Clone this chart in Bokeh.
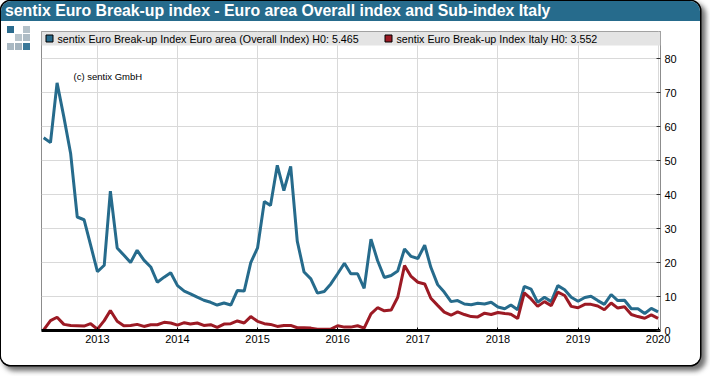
import pandas as pd
from bokeh.embed import file_html
from bokeh.layouts import column
from bokeh.resources import INLINE
from bokeh.plotting import figure
from bokeh.models import (BoxAnnotation, ColumnDataSource, Div, FixedTicker, Grid, Label,
                          LinearAxis, Range1d)

title_text = "sentix Euro Break-up index - Euro area Overall index and Sub-index Italy"
series_names = ["sentix Euro Break-up Index Euro area (Overall Index) H0: 5.465",
                "sentix Euro Break-up Index Italy H0: 3.552"]
credit = "(c) sentix GmbH"

euro_area = [56.7, 55.3, 72.9, 62.8, 52.0, 33.4, 32.6, 25.1,
             17.3, 19.2, 41.0, 24.3, 22.2, 20.0, 23.6, 20.7, 18.7, 14.2, 15.7, 17.0,
             13.2, 11.6, 10.8, 9.8, 8.9, 8.3, 7.5, 8.1, 7.5, 11.8, 11.6, 20.0,
             24.3, 38.0, 36.8, 48.6, 41.2, 48.3, 26.3, 17.2, 15.2, 11.0, 11.5, 13.7,
             16.7, 19.8, 16.7, 16.7, 12.4, 26.9, 20.6, 15.6, 16.2, 17.5, 24.0, 21.8,
             21.2, 25.1, 18.6, 13.5, 11.3, 8.5, 8.8, 7.8, 7.6, 8.0, 7.8, 8.3,
             6.9, 6.4, 7.5, 6.1, 13.0, 12.2, 8.3, 9.8, 8.5, 13.2, 12.0, 9.8,
             8.6, 9.7, 10.1, 8.8, 7.7, 10.6, 8.8, 8.9, 6.4, 6.4, 5.0, 6.5,
             5.465]
italy = [0.2, 2.9, 3.9, 1.8, 1.5, 1.4, 1.3, 2.0,
         0.4, 2.9, 5.9, 2.7, 1.4, 1.5, 1.8, 1.2, 1.7, 1.7, 2.4, 2.2,
         1.6, 2.3, 1.9, 2.2, 1.5, 1.7, 0.9, 1.9, 2.0, 2.8, 2.2, 4.1,
         2.7, 2.0, 1.8, 1.2, 1.5, 1.5, 0.8, 0.8, 0.7, 0.4, 0.4, 0.4,
         1.4, 1.0, 1.0, 1.4, 0.7, 4.9, 6.7, 5.8, 6.0, 9.8, 19.1, 15.9,
         14.2, 13.7, 9.5, 7.4, 5.4, 4.5, 5.5, 4.7, 4.1, 4.0, 5.1, 4.7,
         5.3, 5.0, 4.8, 3.5, 11.1, 9.3, 7.1, 8.5, 7.3, 11.3, 10.3, 7.1,
         6.7, 7.7, 7.7, 7.2, 6.1, 8.1, 6.6, 7.0, 4.7, 4.1, 3.6, 4.6,
         3.552]
first_month = "2012-05-01"
year_labels = [2013, 2014, 2015, 2016, 2017, 2018, 2019, 2020]
value_ticks = [0, 10, 20, 30, 40, 50, 60, 70, 80]

BLUE = "#266b8c"
RED = "#9c1a24"
OX = 1    # the card starts one pixel in, so that its black ring fits the page
OY = 21   # page y of the figure's top, under the title band


def ms(t):
    return pd.Timestamp(t).value / 1e6


months = pd.date_range(first_month, periods=len(euro_area), freq="MS")
src = ColumnDataSource(dict(x=[ms(m) for m in months], euro=euro_area, italy=italy))
year_ms = [ms(f"{y}-01-01") for y in year_labels]

# the logo lies outside the plot frame: its squares are layers of the figure's CSS background
logo = [(7, 26, "#2a6b8e"), (23, 26, "#b4c1c9"),
        (15, 34, "#b9c5cc"), (23, 34, "#aebcc5"),
        (7, 43, "#a9b8c2"), (15, 43, "#a3b3be"), (23, 43, "#3a7899")]
layers = [f"linear-gradient({c},{c}) {lx - OX}px {ly - OY}px/7px 7px no-repeat" for lx, ly, c in logo]
layers.append("#ffffff")

head = Div(text=title_text, width=699, height=OY - 1, margin=0,
           styles={"background": BLUE, "color": "#ffffff", "font-family": "Liberation Sans",
                   "font-size": "15.84px", "font-weight": "bold", "line-height": "20px",
                   "padding-left": "4px", "box-sizing": "border-box", "white-space": "nowrap"})

p = figure(width=699, height=344, output_backend="svg", toolbar_location=None,
           x_range=Range1d(ms("2012-04-21"), ms("2020-01-12")), y_range=Range1d(0, 88),
           x_axis_type=None, y_axis_type=None,
           min_border_left=41 - OX, min_border_right=40, min_border_top=31 - OY, min_border_bottom=35,
           background_fill_color="#ffffff", border_fill_color=None,
           outline_line_color="#8c8c8c", outline_line_width=1, margin=0)
p.styles = {"background": ", ".join(layers)}


def box(l, t, r, b, fill, line=None, lw=1):
    p.add_layout(BoxAnnotation(left=l - OX, right=r - OX, top=t - OY, bottom=b - OY,
                               left_units="canvas", right_units="canvas",
                               top_units="canvas", bottom_units="canvas",
                               fill_color=fill, fill_alpha=1.0,
                               line_color=line, line_width=lw, line_alpha=1.0 if line else 0,
                               level="annotation", editable=False))


def text(x, y, s, size, color="#000000", style="normal"):
    p.add_layout(Label(x=x - OX, y=y - OY, x_units="canvas", y_units="canvas", text=s,
                       text_font="Liberation Sans", text_font_size=size,
                       text_font_style=style, text_color=color,
                       text_baseline="middle", text_align="left", level="annotation"))


# grid and axes
ygrid_ticker = FixedTicker(ticks=value_ticks)
xticker = FixedTicker(ticks=year_ms)
xaxis = LinearAxis(ticker=xticker, major_label_overrides={m: str(y) for m, y in zip(year_ms, year_labels)},
                   axis_line_color="#000000", axis_line_width=3,
                   major_tick_in=3, major_tick_out=0, major_tick_line_color="#000000",
                   minor_tick_line_color=None, major_label_standoff=4,
                   major_label_text_font="Liberation Sans", major_label_text_font_size="11px",
                   major_label_text_color="#000000")
yaxis = LinearAxis(ticker=ygrid_ticker, axis_line_color="#8c8c8c",
                   major_tick_in=4, major_tick_out=0, major_tick_line_color="#333333",
                   minor_tick_line_color=None, major_label_standoff=4,
                   major_label_text_font="Liberation Sans", major_label_text_font_size="11px",
                   major_label_text_color="#000000")
p.add_layout(xaxis, "below")
p.add_layout(yaxis, "right")
p.add_layout(Grid(dimension=0, ticker=xticker, grid_line_color="#d9d9d9", grid_line_width=1))
p.add_layout(Grid(dimension=1, ticker=ygrid_ticker, grid_line_color="#d9d9d9", grid_line_width=1))

# series
p.line("x", "euro", source=src, line_color=BLUE, line_width=3, line_join="bevel")
p.line("x", "italy", source=src, line_color=RED, line_width=3, line_join="bevel")

# legend band
box(41, 31, 660, 45, "#e4e4e4")
box(45.5, 34.5, 52.5, 41.5, BLUE, line="#000000", lw=1)
text(57, 38, series_names[0], "10.7px")
box(384.5, 34.5, 391.5, 41.5, RED, line="#000000", lw=1)
text(396, 38, series_names[1], "10.7px")
text(73, 76, credit, "9.5px")

page = column(head, p, spacing=0, width=699, height=364, margin=(1, 0, 0, 1),
              styles={"border-radius": "10px", "overflow": "hidden", "background": "#ffffff",
                      "box-shadow": "0 0 0 1.5px #000000, 4px 4px 5px 2px rgba(40,40,40,0.65)"})

open("out.html", "w").write(file_html(page, INLINE))
